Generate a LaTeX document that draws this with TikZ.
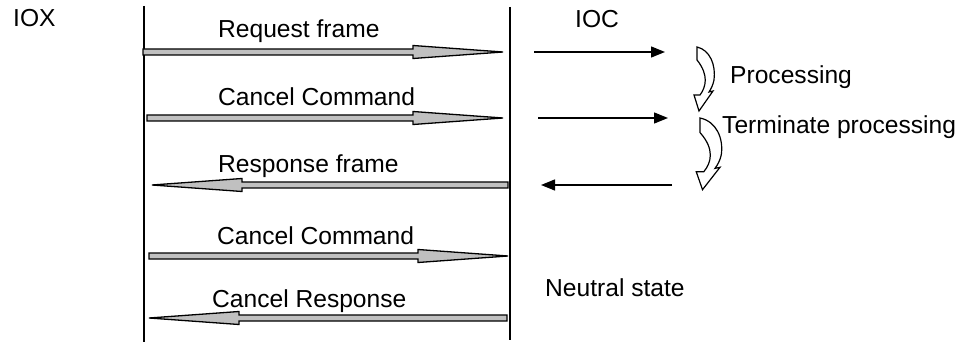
\documentclass[tikz,border=0pt]{standalone}
\usepackage{fontspec}
\setmainfont{Liberation Sans}
\usetikzlibrary{arrows.meta,calc}

\definecolor{arrowfill}{RGB}{192,192,192}

% wide message arrow: shaft plus long slim head, #1 = tail, #2 = tip
\newcommand{\blockarrow}[2]{%
  \path[msgarrow] let \p1=(#1), \p2=(#2), \p3=($(#2)!90pt!(#1)$) in
    (\x1,\y1-3pt) -- (\x3,\y1-3pt) -- (\x3,\y1-6.5pt) -- (\x2,\y2)
    -- (\x3,\y1+6.5pt) -- (\x3,\y1+3pt) -- (\x1,\y1+3pt) -- cycle;}

\tikzset{
  lifeline/.style={line width=1.3pt},
  msgarrow/.style={draw=black, fill=arrowfill, line width=1.3pt, line join=miter},
  thinarrow/.style={line width=1.3pt, -{Triangle[length=14pt,width=11pt]}},
  lbl/.style={inner sep=0pt, anchor=base west, font=\fontsize{24.6}{28}\selectfont},
  bent/.style={draw=black, fill=white, line width=1.2pt, line join=miter},
  % hollow bent arrow: flat tail at the top, head pointing down-left
  bentarrow/.pic={
    \path[bent] (0,0) .. controls (13,3) and (19,18) .. (17,33)
      .. controls (16,38) and (14,42) .. (12,45)
      -- (16,44) -- (2,64) -- (-3,48) -- (3,48)
      .. controls (9,40) and (12,28) .. (0,13) -- cycle;}
}

\begin{document}
\begin{tikzpicture}[x=1pt, y=-1pt]
\useasboundingbox (0,0) rectangle (968,347);

% lifelines
\coordinate (xtop) at (144,6);
\coordinate (xbot) at (144,342);
\coordinate (ctop) at (510,7);
\coordinate (cbot) at (510,340);
\draw[lifeline] (xtop) -- (xbot);
\draw[lifeline] (ctop) -- (cbot);

% participant names
\node[lbl] (iox) at (13,27) {IOX};
\node[lbl] (ioc) at (575,28) {IOC};

% message end points
\coordinate (m1a) at (143,52);  \coordinate (m1b) at (503,52);
\coordinate (m2a) at (147,118); \coordinate (m2b) at (503,118);
\coordinate (m3a) at (508,185); \coordinate (m3b) at (152,185);
\coordinate (m4a) at (149,256); \coordinate (m4b) at (508,256);
\coordinate (m5a) at (507,318); \coordinate (m5b) at (149,318);

\blockarrow{m1a}{m1b}
\blockarrow{m2a}{m2b}
\blockarrow{m3a}{m3b}
\blockarrow{m4a}{m4b}
\blockarrow{m5a}{m5b}

% message labels
\node[lbl] (l1) at (218,38)  {Request frame};
\node[lbl] (l2) at (218,106) {Cancel Command};
\node[lbl] (l3) at (218,173) {Response frame};
\node[lbl] (l4) at (217,244) {Cancel Command};
\node[lbl] (l5) at (212,307) {Cancel Response};

% signals on the IOC side
\coordinate (s1a) at (534,52);  \coordinate (s1b) at (665,52);
\coordinate (s2a) at (538,118); \coordinate (s2b) at (668,118);
\coordinate (s3a) at (672,185); \coordinate (s3b) at (541,185);
\draw[thinarrow] (s1a) -- (s1b);
\draw[thinarrow] (s2a) -- (s2b);
\draw[thinarrow] (s3a) -- (s3b);

% processing steps
\pic at (697,47) {bentarrow};
\pic[xscale=1.25, yscale=1.12] at (700,118) {bentarrow};

\node[lbl] (p1) at (730,84)  {Processing};
\node[lbl] (p2) at (722,134) {Terminate processing};
\node[lbl] (p3) at (545,296) {Neutral state};
\end{tikzpicture}
\end{document}
